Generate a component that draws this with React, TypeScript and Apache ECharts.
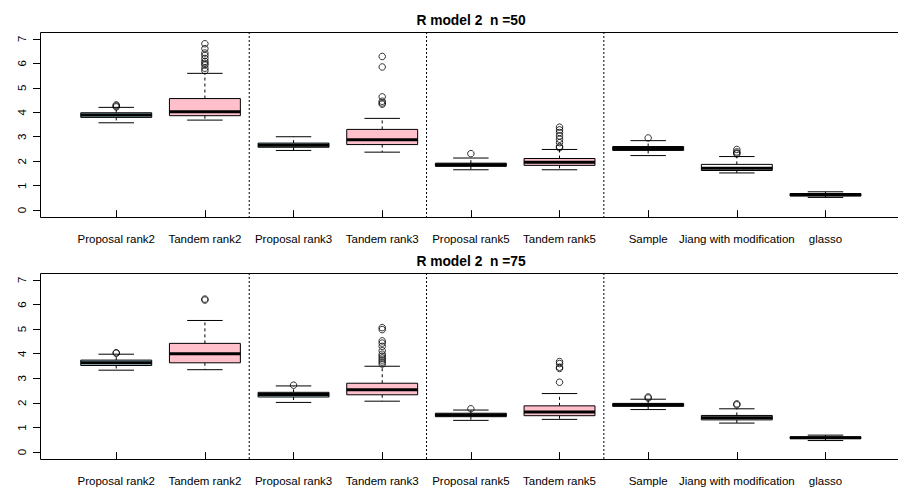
import React, { useEffect, useRef } from "react";
import * as echarts from "echarts";

const categories = [
  "Proposal rank2", "Tandem rank2", "Proposal rank3", "Tandem rank3",
  "Proposal rank5", "Tandem rank5", "Sample", "Jiang with modification", "glasso",
];
const boxColors = ["#ADD8E6", "#FFC0CB", "#ADD8E6", "#FFC0CB", "#ADD8E6", "#FFC0CB", "#FFFFFF", "#FFFFFF", "#FFFFFF"];
const yTicks = [0, 1, 2, 3, 4, 5, 6, 7];
const separators = [2.5, 4.5, 6.5];
const titles = ["R model 2  n =50", "R model 2  n =75"];

// n = 50
const n50Min = [3.57, 3.68, 2.44, 2.37, 1.65, 1.65, 2.23, 1.52, 0.52];
const n50Q1 = [3.79, 3.86, 2.57, 2.68, 1.79, 1.83, 2.44, 1.62, 0.58];
const n50Median = [3.89, 4.02, 2.65, 2.88, 1.86, 1.96, 2.52, 1.71, 0.63];
const n50Q3 = [3.98, 4.56, 2.74, 3.30, 1.92, 2.11, 2.60, 1.87, 0.68];
const n50Max = [4.20, 5.59, 3.00, 3.75, 2.13, 2.48, 2.84, 2.19, 0.75];
const n50Outliers = [
  [4.22, 4.26, 4.30],
  [6.8, 6.6, 6.42, 6.32, 6.2, 6.08, 6.0, 5.93, 5.8, 5.7],
  [],
  [6.28, 5.85, 4.63, 4.45, 4.38, 4.33],
  [2.31],
  [3.39, 3.28, 3.17, 3.03, 2.9, 2.76, 2.6, 2.55],
  [2.95],
  [2.48, 2.38, 2.33, 2.3],
  [],
];

// n = 75
const n75Min = [3.33, 3.35, 2.02, 2.07, 1.29, 1.33, 1.73, 1.18, 0.47];
const n75Q1 = [3.52, 3.63, 2.24, 2.33, 1.44, 1.48, 1.86, 1.31, 0.55];
const n75Median = [3.63, 4.00, 2.34, 2.53, 1.51, 1.63, 1.93, 1.40, 0.58];
const n75Q3 = [3.74, 4.42, 2.43, 2.80, 1.58, 1.88, 1.98, 1.49, 0.62];
const n75Max = [3.98, 5.35, 2.69, 3.49, 1.71, 2.38, 2.15, 1.76, 0.69];
const n75Outliers = [
  [4.02, 4.04],
  [6.22, 6.18],
  [2.72],
  [5.06, 4.98, 4.52, 4.43, 4.3, 4.12, 3.98, 3.9, 3.82, 3.74, 3.66, 3.58],
  [1.76],
  [3.68, 3.6, 3.45, 3.4, 2.84],
  [2.24, 2.2],
  [1.96, 1.92],
  [],
];

const FONT = "'Liberation Sans', Arial, Helvetica, sans-serif";

function boxRender(params: any, api: any) {
  const x = api.value(0);
  const [cx, yLo] = api.coord([x, api.value(1)]);
  const yQ1 = api.coord([x, api.value(2)])[1];
  const yMed = api.coord([x, api.value(3)])[1];
  const yQ3 = api.coord([x, api.value(4)])[1];
  const yHi = api.coord([x, api.value(5)])[1];
  const unit = api.size([1, 0])[0];
  const bw = (unit * 0.8) / 2;
  const cw = (unit * 0.4) / 2;
  const fill = boxColors[params.dataIndex];
  const stroke = "#000";
  return {
    type: "group",
    children: [
      { type: "line", shape: { x1: cx, y1: yQ3, x2: cx, y2: yHi }, style: { stroke, lineWidth: 1, lineDash: [3, 3] } },
      { type: "line", shape: { x1: cx, y1: yQ1, x2: cx, y2: yLo }, style: { stroke, lineWidth: 1, lineDash: [3, 3] } },
      { type: "line", shape: { x1: cx - cw, y1: yHi, x2: cx + cw, y2: yHi }, style: { stroke, lineWidth: 1 } },
      { type: "line", shape: { x1: cx - cw, y1: yLo, x2: cx + cw, y2: yLo }, style: { stroke, lineWidth: 1 } },
      { type: "rect", shape: { x: cx - bw, y: yQ3, width: 2 * bw, height: yQ1 - yQ3 }, style: { fill, stroke, lineWidth: 1 } },
      { type: "line", shape: { x1: cx - bw, y1: yMed, x2: cx + bw, y2: yMed }, style: { stroke, lineWidth: 3 } },
    ],
  };
}

function sepRender(params: any, api: any) {
  const cs = params.coordSys;
  const x = api.coord([api.value(0), 0])[0];
  return {
    type: "line",
    shape: { x1: x, y1: cs.y, x2: x, y2: cs.y + cs.height },
    style: { stroke: "#000", lineWidth: 1, lineDash: [2, 2] },
  };
}

// frame: top, left and bottom sides (right side lies outside the picture)
function frameRender(params: any) {
  const cs = params.coordSys;
  const x0 = Math.round(cs.x) + 0.5;
  const y0 = Math.round(cs.y) + 0.5;
  const y1 = Math.round(cs.y + cs.height) + 0.5;
  const x1 = cs.x + cs.width + 10;
  return {
    type: "polyline",
    shape: { points: [[x1, y0], [x0, y0], [x0, y1], [x1, y1]] },
    style: { stroke: "#000", lineWidth: 1, fill: "none" },
  };
}

function buildPanel(idx: number, mins: number[], q1s: number[], meds: number[], q3s: number[], maxs: number[], outs: number[][]) {
  const boxData = categories.map((_, i) => [i + 1, mins[i], q1s[i], meds[i], q3s[i], maxs[i]]);
  const outData: number[][] = [];
  outs.forEach((list, i) => list.forEach((v) => outData.push([i + 1, v])));
  return [
    {
      type: "custom",
      xAxisIndex: idx,
      yAxisIndex: idx,
      data: [[1, 0]],
      encode: { x: 0, y: 1 },
      renderItem: frameRender,
      silent: true,
      clip: false,
    },
    {
      type: "custom",
      xAxisIndex: idx,
      yAxisIndex: idx,
      data: separators.map((s) => [s, 0]),
      encode: { x: 0, y: 1 },
      renderItem: sepRender,
      silent: true,
      clip: false,
    },
    {
      type: "custom",
      xAxisIndex: idx,
      yAxisIndex: idx,
      data: boxData,
      encode: { x: 0, y: [1, 2, 3, 4, 5] },
      renderItem: boxRender,
      silent: true,
    },
    {
      type: "scatter",
      xAxisIndex: idx,
      yAxisIndex: idx,
      data: outData,
      symbol: "circle",
      symbolSize: 6.5,
      itemStyle: { color: "rgba(0,0,0,0)", borderColor: "#000", borderWidth: 1 },
      silent: true,
    },
  ];
}

const gridTops = [32, 273];
const gridHeights = [185, 186];

export default function App() {
  const ref = useRef<HTMLDivElement>(null);
  useEffect(() => {
    document.body.style.margin = "0";
    if (!ref.current) return;
    const chart = echarts.init(ref.current, null, { renderer: "svg" });
    const xAxes = [0, 1].map((i) => ({
      type: "value",
      gridIndex: i,
      min: 0.14,
      max: 9.818,
      axisLine: { show: false },
      splitLine: { show: false },
      axisTick: { show: true, length: 7, inside: false, customValues: [1, 2, 3, 4, 5, 6, 7, 8, 9], lineStyle: { color: "#000", width: 1 } },
      axisLabel: {
        show: true,
        customValues: [1, 2, 3, 4, 5, 6, 7, 8, 9],
        formatter: (v: number) => categories[Math.round(v) - 1] || "",
        color: "#000",
        fontFamily: FONT,
        fontSize: 11.5,
        margin: 15.5,
        hideOverlap: false,
      },
    }));
    const yAxes = [0, 1].map((i) => ({
      type: "value",
      gridIndex: i,
      min: -0.28,
      max: 7.28,
      axisLine: { show: false },
      splitLine: { show: false },
      axisTick: { show: true, length: 7, inside: false, customValues: yTicks, lineStyle: { color: "#000", width: 1 } },
      axisLabel: {
        show: true,
        customValues: yTicks,
        rotate: 90,
        color: "#000",
        fontFamily: FONT,
        fontSize: 11.5,
        margin: 12,
      },
    }));
    chart.setOption({
      animation: false,
      backgroundColor: "#fff",
      grid: [0, 1].map((i) => ({
        left: 40,
        right: 0,
        top: gridTops[i],
        height: gridHeights[i],
        show: false,
      })),
      xAxis: xAxes,
      yAxis: yAxes,
      graphic: titles.map((t, i) => ({
        type: "text",
        x: 471,
        y: gridTops[i] - 12,
        style: {
          text: t,
          textAlign: "center",
          textVerticalAlign: "middle",
          fontFamily: FONT,
          fontWeight: "bold",
          fontSize: 13.8,
          fill: "#000",
        },
      })),
      series: [
        ...buildPanel(0, n50Min, n50Q1, n50Median, n50Q3, n50Max, n50Outliers),
        ...buildPanel(1, n75Min, n75Q1, n75Median, n75Q3, n75Max, n75Outliers),
      ],
    });
    return () => chart.dispose();
  }, []);
  return <div ref={ref} style={{ position: "fixed", left: 0, top: 0, width: 898, height: 489 }} />;
}
